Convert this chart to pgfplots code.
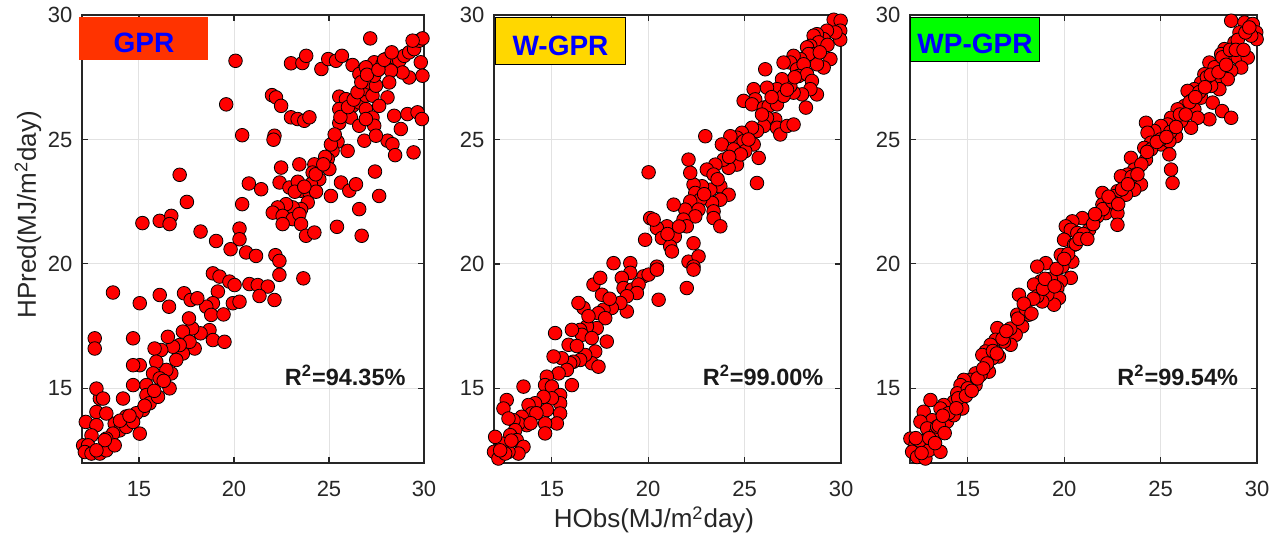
\documentclass[border=0pt]{standalone}
\usepackage{fontspec}
\setmainfont{Liberation Sans}
\usepackage{pgfplots}
\pgfplotsset{compat=1.18}
\definecolor{axc}{RGB}{38,38,38}
\definecolor{gridc}{RGB}{226,226,226}
\definecolor{gprred}{RGB}{255,51,0}
\definecolor{wgold}{RGB}{255,215,0}
\definecolor{wpgreen}{RGB}{0,255,0}
\definecolor{mred}{RGB}{255,0,0}
\pgfplotsset{
  panel/.style={
    scale only axis, anchor=south west,
    xmin=12, xmax=30, ymin=12, ymax=30,
    xtick={15,20,25,30}, ytick={15,20,25,30},
    grid=major, major grid style={line width=0.5pt, draw=gridc},
    axis line style={draw=axc, line width=0.6pt},
    tick style={draw=axc, line width=0.6pt},
    tick align=inside, major tick length=3pt,
    tick label style={font=\fontsize{11}{13}\selectfont, text=axc},
    /pgf/number format/assume math mode=true,
    xticklabel shift=5.5pt, yticklabel shift=1.3pt,
    clip=false,
  },
  pts/.style={only marks, mark=*, mark size=3.4pt, mark options={fill=mred, draw=black, line width=0.4pt}},
}
\tikzset{
  ttl/.style={minimum height=#1, inner sep=0pt, anchor=north west, text=blue,
    font=\fontsize{14}{16}\selectfont\bfseries, text height=14pt, text depth=0pt},
  rsq/.style={anchor=base east, font=\fontsize{11.75}{14}\selectfont\bfseries, text=black!90},
}
\begin{document}
\begin{tikzpicture}
\path[use as bounding box] (0,0) rectangle (642pt,269pt);
% ---------------- GPR ----------------
\begin{axis}[panel, at={(41pt,37.5pt)}, width=171pt, height=224pt,
  ylabel={HPred(MJ/m\textsuperscript{2}day)},
  every axis y label/.style={at={(axis description cs:-0.158,0.554)}, rotate=90, anchor=center, font=\fontsize{13}{15}\selectfont, text=axc}]
\addplot[pts] coordinates {
(27.17,29.06) (20.08,28.16) (23.0,28.06) (23.6,28.07) (23.8,28.36) (24.6,27.83) (24.96,28.23) (25.37,28.16) (25.68,28.36) (26.24,27.99)
(26.86,27.83) (26.6,27.63) (27.38,28.10) (27.82,28.03) (28.0,28.23) (28.43,28.30) (28.70,28.16) (28.96,28.36) (29.22,28.50) (29.48,28.63)
(29.75,28.97) (29.92,29.06) (29.4,28.97) (29.83,28.10) (29.92,27.56) (29.22,27.49) (28.87,27.69) (28.26,27.76) (28.17,27.29) (28.08,26.69)
(28.43,25.95) (29.13,26.02) (29.66,26.09) (29.89,25.82) (28.78,25.42) (28.08,24.95) (28.34,24.81) (28.48,24.37) (29.45,24.48)
(25.54,26.72) (25.89,26.62) (26.24,26.35) (26.59,26.49) (26.94,26.76) (26.94,26.22) (27.29,25.88) (27.38,25.55) (26.77,27.02) (27.12,27.29)
(25.54,26.22) (26.15,25.88) (26.59,25.55) (26.94,25.82) (25.54,25.66) (25.45,24.91) (26.86,24.95) (27.47,25.15) (25.98,24.54) (27.29,26.76)
(27.64,26.35) (27.47,27.16) (27.38,27.56) (26.94,27.9)
(25.19,24.54) (24.93,24.21) (24.58,23.94) (24.23,24.0) (25.02,23.81) (24.14,23.67) (24.49,23.40) (24.05,23.20) (23.44,24.0) (22.48,23.87)
(22.4,23.27) (22.92,23.07) (23.36,23.30) (23.53,22.94) (23.97,22.87) (24.32,22.9) (23.88,22.47) (23.53,22.2) (23.09,22.27) (22.74,22.4)
(22.3,22.27) (22.04,22.06) (22.56,21.93) (23.09,21.8) (23.44,22.0) (23.53,21.6) (23.79,21.13) (24.23,21.26) (22.56,21.6) (22.13,25.15)
(25.63,23.27) (26.07,22.94) (26.42,23.2) (25.1,22.73) (26.59,22.2) (25.42,21.49) (26.72,21.13) (27.42,23.71) (27.64,22.73)
(22.0,26.78) (22.21,26.69) (22.48,26.35) (23.0,25.89) (23.35,25.82) (23.7,25.75) (23.97,25.89) (22.08,24.99) (20.43,25.17) (19.59,26.41)
(17.14,23.58) (17.52,22.49) (20.78,23.23) (21.43,23.0) (20.43,22.40) (20.29,21.42) (20.29,20.99) (20.64,20.46) (21.16,20.32) (22.18,20.35)
(22.39,20.12) (19.06,20.92) (19.82,20.59) (18.24,21.3) (15.18,21.64) (16.09,21.73) (16.7,21.93) (16.61,21.6)
(24.8,24.3) (25.1,24.8) (25.3,25.2) (25.6,25.9) (26.0,26.3) (26.3,26.6) (26.5,26.9) (26.7,27.3) (27.0,27.6) (27.6,27.8)
(27.9,28.2) (28.3,28.5) (23.2,22.9) (23.7,23.1) (24.3,23.6) (24.7,24.0)
(18.89,19.62) (19.24,19.49) (19.76,19.29) (20.03,19.15) (20.81,19.19) (21.25,19.15) (21.78,19.09) (21.34,18.71) (22.13,18.55) (22.39,19.56)
(23.65,19.42) (19.94,18.42) (20.29,18.48) (19.15,18.89) (18.89,18.42) (18.54,18.28) (18.8,17.95) (19.45,17.97) (18.71,17.34) (18.89,16.94)
(19.5,16.87) (18.24,17.21) (17.8,17.41) (17.63,17.81) (17.37,18.82) (17.72,18.55) (18.07,18.62) (16.58,18.28) (16.09,18.75) (15.04,18.42)
(13.63,18.85) (17.93,16.6) (17.31,17.28) (17.31,16.4) (17.66,16.87) (17.14,16.74) (16.79,16.67) (16.52,17.07) (16.17,16.54) (15.82,16.6)
(16.96,16.14) (16.7,15.6) (16.44,15.74) (15.91,16.07) (15.74,15.6) (16.09,15.4) (16.61,15.0) (15.39,15.13) (15.39,14.73) (15.56,14.4)
(16.0,14.66) (15.04,15.93) (14.69,15.93) (14.69,17.01) (14.69,15.13) (15.21,14.13) (14.86,14.0) (14.33,13.87) (14.16,14.59) (13.72,13.58)
(13.98,13.31) (14.33,13.45) (14.69,13.65) (15.04,13.18) (13.63,13.18) (13.28,12.98) (12.76,14.05) (13.28,13.99) (12.94,14.59) (12.76,14.99)
(13.11,14.59) (12.67,17.01) (12.67,16.6) (12.2,13.65) (12.76,13.52) (12.5,13.11) (12.06,12.71) (12.32,12.71) (12.15,12.44) (12.5,12.38)
(12.94,12.38) (13.28,12.51) (13.72,12.71) (13.2,12.92) (12.76,12.51) (14.0,13.7) (14.5,13.9) (15.3,14.3) (15.8,14.9) (16.3,15.3)
};
\node[ttl=21.5pt, minimum width=64.5pt, fill=gprred] at ([xshift=-1.5pt,yshift=-1pt]rel axis cs:0,1) {GPR};
\node[rsq] at (axis cs:29.4,15.13) {R\textsuperscript{2}=94.35\%};
\end{axis}
% ---------------- W-GPR ----------------
\begin{axis}[panel, at={(247pt,37.5pt)}, width=173.5pt, height=224pt,
  xlabel={HObs(MJ/m\textsuperscript{2}day)},
  every axis x label/.style={at={(axis description cs:0.461,-0.145)}, anchor=base, font=\fontsize{13}{15}\selectfont, text=axc}]
\addplot[pts] coordinates {
(29.62,29.81) (29.98,29.77) (29.96,29.37) (29.96,29.01) (29.45,28.23) (29.71,29.3) (29.27,29.37) (29.1,29.03) (28.75,29.23) (28.58,29.17)
(28.84,28.9) (28.41,28.76) (28.24,28.7) (28.58,28.43) (29.1,27.89) (28.75,28.02) (28.32,28.43) (27.89,28.23) (27.54,28.36) (27.37,28.09)
(27.02,28.09) (27.72,27.82) (28.06,28.02) (27.8,27.55) (28.24,27.62) (28.49,27.35) (28.75,26.81) (28.18,26.28) (28.41,27.02) (27.98,26.81)
(27.54,26.88) (27.37,27.15) (26.94,27.42) (26.68,27.02) (26.16,27.08) (26.07,27.82) (25.47,27.02) (25.55,26.61) (24.95,26.55) (25.38,26.41)
(26.0,26.28) (26.25,26.34) (26.68,26.41) (27.02,26.75) (26.59,25.81) (26.16,25.87) (26.0,25.54) (26.68,25.47) (26.85,25.2) (27.2,25.54)
(27.54,25.6) (25.64,25.34) (25.38,25.47) (24.86,25.27) (24.6,25.07) (24.26,25.13) (23.82,24.8) (24.95,24.93) (25.47,24.8) (25.03,24.53)
(24.43,24.6) (25.73,24.26) (25.64,23.25) (24.6,23.99) (24.17,23.86) (23.91,24.19) (23.48,23.99) (23.04,23.79) (23.39,23.59) (23.74,23.12)
(23.22,22.98) (22.79,23.12) (22.35,23.19) (22.44,22.85) (22.09,24.19) (22.18,23.66) (22.96,25.13) (24.17,22.78) (23.74,22.58) (23.31,22.45)
(22.7,22.58) (22.18,22.51) (22.61,22.18) (21.92,22.18) (22.44,21.91) (23.39,22.11) (23.39,21.84) (23.74,21.51) (21.32,22.38) (21.83,21.78)
(22.0,21.51) (20.97,21.51) (20.45,21.44) (20.71,21.04) (21.38,21.1) (21.14,20.7) (19.84,20.97) (20.1,21.84) (20.28,21.78) (20.02,23.68)
(22.35,20.83) (22.09,20.09) (22.61,20.3) (22.35,19.89) (21.23,20.5) (18.2,20.03) (19.07,20.03) (20.45,19.89)
(29.3,28.8) (28.9,28.5) (27.6,27.5) (27.2,27.0) (26.4,26.7) (25.9,26.0) (25.2,25.0) (24.8,24.4) (24.2,24.3) (23.6,23.4)
(22.9,22.8) (21.6,21.5) (21.0,21.2)
(19.07,19.64) (19.76,19.5) (20.02,19.57) (20.45,19.77) (22.0,19.03) (22.35,19.77) (18.63,19.44) (18.72,19.03) (19.16,18.97) (19.5,19.17)
(19.41,18.83) (18.89,18.7) (18.89,18.09) (18.55,18.43) (18.11,18.23) (17.68,18.16) (17.42,18.02) (17.16,19.17) (17.51,19.44) (17.6,18.76)
(16.64,18.23) (16.38,18.43) (20.54,18.56) (17.77,17.82) (17.85,16.88) (17.33,17.42) (16.82,17.49) (16.47,17.35) (16.56,17.15) (16.04,17.35)
(17.07,17.02) (17.25,16.48) (17.07,16.01) (17.42,15.87) (16.73,16.34) (16.47,16.14) (16.12,16.07) (15.87,16.75) (15.95,16.01) (15.52,16.21)
(15.78,15.74) (15.35,15.6) (15.09,16.28) (15.17,17.22) (14.74,15.47) (14.65,15.13) (15.0,15.07) (15.43,14.73) (16.04,15.13) (15.43,14.4)
(15.43,13.99) (15.26,13.59) (15.0,14.6) (14.57,14.66) (14.74,14.13) (14.65,13.59) (14.65,13.19) (14.13,14.4) (13.79,14.33) (13.53,15.07)
(13.96,13.99) (13.44,13.86) (13.7,13.52) (13.27,13.59) (13.01,13.72) (12.66,14.53) (12.49,14.19) (12.75,13.79) (13.1,13.32) (12.84,13.12)
(13.18,12.92) (13.53,12.65) (13.27,12.38) (12.75,12.45) (12.41,12.78) (12.06,13.05) (12.0,12.45) (12.23,12.18) (12.58,12.38) (12.32,12.51)
(18.0,18.6) (16.9,17.9) (16.3,16.7) (14.2,14.0) (13.9,13.6) (12.9,12.9)
};
\node[ttl=23.5pt, minimum width=65pt, fill=wgold, draw=black, line width=0.5pt] at ([xshift=0.5pt,yshift=-1pt]rel axis cs:0,1) {W-GPR};
\node[rsq] at (axis cs:29.45,15.13) {R\textsuperscript{2}=99.00\%};
\end{axis}
% ---------------- WP-GPR ----------------
\begin{axis}[panel, at={(455pt,37.5pt)}, width=173.5pt, height=224pt]
\addplot[pts] coordinates {
(28.66,29.77) (29.35,29.7) (29.78,29.64) (29.96,29.3) (29.98,29.03) (29.7,29.17) (29.09,29.3) (28.83,28.9) (28.31,28.63) (28.14,28.43)
(28.48,28.23) (29.0,28.29) (29.52,28.29) (29.18,27.89) (28.66,27.76) (27.97,27.96) (27.53,28.09) (27.79,27.76) (27.27,27.62) (27.88,27.42)
(28.48,27.42) (28.05,27.02) (27.62,27.15) (27.1,27.28) (26.75,27.02) (26.4,26.95) (27.1,26.68) (26.58,26.55) (26.23,26.34) (25.88,26.21)
(26.75,26.21) (27.7,26.48) (28.19,26.14) (28.66,25.87) (27.53,25.81) (26.92,25.87) (26.58,25.47) (26.06,25.74) (25.54,25.87) (25.36,25.6)
(25.02,25.54) (24.67,25.34) (24.24,25.67) (24.32,25.27) (25.02,24.8) (25.8,25.13) (25.45,24.93) (25.45,24.4) (25.54,23.79) (25.62,23.25)
(24.5,24.87) (24.15,24.66) (24.24,24.19) (23.89,23.92) (23.46,24.26) (23.63,23.79) (23.28,23.59) (22.94,23.52) (23.72,23.59) (23.98,23.19)
(23.63,22.98) (23.2,22.78) (22.76,22.92) (22.59,22.72) (22.24,22.58) (22.33,22.31) (21.98,22.85) (21.98,22.38) (22.15,22.04) (22.76,22.04)
(22.76,21.57) (21.72,21.91) (21.38,21.71) (21.29,21.37) (20.94,21.84) (20.42,21.71) (20.08,21.51) (20.34,21.37) (20.68,21.24) (19.99,20.97)
(20.51,20.77) (19.82,20.36) (20.42,20.09) (19.9,19.89) (19.04,20.03) (18.6,19.89)
(20.34,19.44) (19.82,19.3) (19.64,19.03) (19.73,18.63) (19.47,18.36) (19.12,18.76) (18.86,18.49) (18.78,19.3) (18.43,19.17) (18.6,18.7)
(18.17,17.96) (17.91,18.09) (17.65,18.76) (17.56,17.96) (17.82,17.49) (17.48,17.15) (17.22,16.75) (16.87,16.88) (16.53,17.42) (16.44,16.95)
(16.18,16.75) (15.92,16.48) (16.61,16.28) (16.27,16.21) (15.75,16.34) (16.09,15.67) (15.66,15.54) (15.4,15.6) (15.4,15.13) (15.14,15.34)
(14.79,15.34) (14.62,15.13) (14.45,14.8) (14.27,14.46) (14.71,14.19) (14.1,14.06) (13.75,14.33) (13.58,14.19) (13.06,14.53) (12.71,14.06)
(13.15,13.72) (12.54,13.66) (12.89,13.39) (13.32,13.19) (12.89,12.85) (12.02,12.98) (12.28,12.72) (12.11,12.45) (12.37,12.24) (12.8,12.18)
(12.97,12.51) (13.58,12.45) (13.92,13.66) (14.27,13.92) (13.41,13.46)
(13.5,13.5) (14.0,14.0) (14.5,14.6) (15.0,15.0) (15.5,15.4) (16.0,16.0) (16.3,16.5) (16.8,17.0) (17.2,17.4) (17.6,17.8)
(18.0,18.2) (18.4,18.6) (18.9,19.0) (19.3,19.4) (19.6,19.8) (20.2,20.4) (20.6,20.8) (21.0,21.2) (21.5,21.6) (22.0,22.2)
(22.5,22.5) (23.0,23.0) (23.5,23.5) (24.0,24.0) (24.5,24.6) (25.0,25.0) (25.5,25.3) (26.0,26.0) (26.5,26.5) (27.0,26.9)
(27.4,27.5) (27.8,27.9) (28.2,28.3) (28.6,28.6) (29.0,29.0) (29.4,29.3) (12.5,12.9) (13.0,13.0) (13.7,13.9) (14.9,14.7)
(12.3,13.0) (12.6,12.4) (13.3,12.8) (13.8,13.2) (14.4,14.2) (15.2,14.9) (15.8,15.8) (16.5,16.4) (17.0,17.3) (17.9,18.4)
(18.3,18.0) (19.0,19.4) (19.5,19.1) (20.0,20.2) (20.8,21.0) (21.2,21.0) (21.6,22.0) (22.3,22.7) (22.8,22.4) (23.3,23.2)
(23.8,23.6) (24.3,24.5) (24.8,24.9) (25.3,25.1) (25.8,25.5) (26.3,26.0) (26.8,26.7) (27.3,27.1) (27.6,27.6) (28.0,27.7)
(28.4,28.0) (28.9,28.6) (29.3,28.6) (29.6,29.5)
};
\node[ttl=22pt, minimum width=64.5pt, fill=wpgreen, draw=black, line width=0.5pt] at ([xshift=0pt,yshift=-1pt]rel axis cs:0,1) {WP-GPR};
\node[rsq] at (axis cs:29.38,15.13) {R\textsuperscript{2}=99.54\%};
\end{axis}
\end{tikzpicture}
\end{document}
